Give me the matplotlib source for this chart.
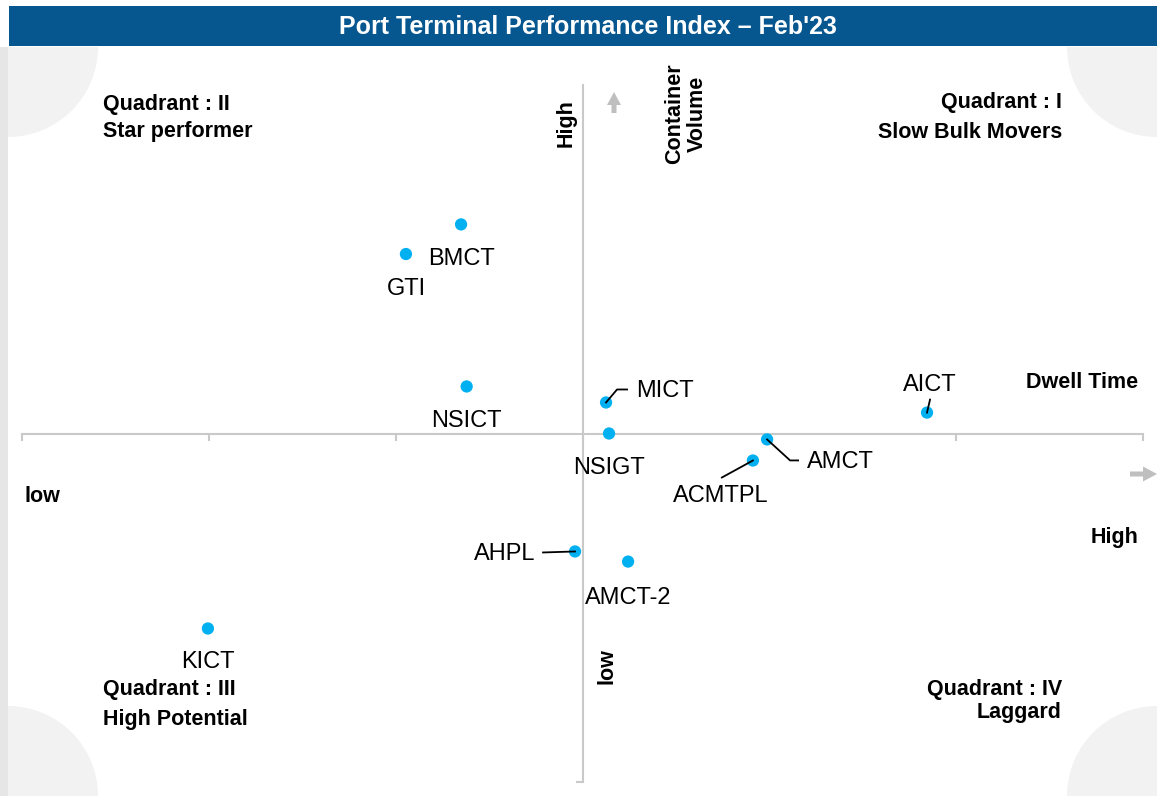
"""Port Terminal Performance Index quadrant chart (Feb'23)."""

import numpy as np
import matplotlib
matplotlib.use("Agg")
import matplotlib.pyplot as plt
from matplotlib.patches import Rectangle, Circle, FancyArrow
from matplotlib.transforms import IdentityTransform

plt.rcParams["font.family"] = ["Liberation Sans", "DejaVu Sans"]

# data (x = dwell time score, y = container volume score)
TERMINALS = ["BMCT", "GTI", "NSICT", "MICT", "NSIGT", "AMCT", "ACMTPL",
             "AICT", "AHPL", "AMCT-2", "KICT"]
DWELL_TIME = [-0.65, -0.945, -0.62, 0.126, 0.142, 0.988, 0.912, 1.844, -0.04, 0.244, -2.005]
CONTAINER_VOLUME = [1.20, 1.03, 0.27, 0.178, 0.0, -0.034, -0.155, 0.12, -0.677, -0.735, -1.119]
X_TICKS = [-3, -2, -1, 0, 1, 2, 3]

TITLE = "Port Terminal Performance Index \u2013 Feb'23"

# label placement in pixels relative to the dot (x right, y down)
LABEL_POS = {
    "BMCT": ((0, 35), "center"),
    "GTI": ((0, 35), "center"),
    "NSICT": ((0, 35), "center"),
    "MICT": ((30, -11), "left"),
    "NSIGT": ((0, 35), "center"),
    "AMCT": ((40, 23), "left"),
    "ACMTPL": ((-32, 35), "center"),
    "AICT": ((3, -28), "center"),
    "AHPL": ((-40, 3), "right"),
    "AMCT-2": ((0, 36), "center"),
    "KICT": ((0, 34), "center"),
}
LEADERS = {
    "MICT": [(0, 0), (11, -13), (21, -13)],
    "AMCT": [(0, 0), (23, 21), (31, 21)],
    "ACMTPL": [(0, 0), (-31, 17)],
    "AICT": [(0, 0), (3, -13)],
    "AHPL": [(0, 0), (-32, 1)],
}

W, H = 1157, 796
BLUE = "#06568F"
DOT = "#00B0F0"
AXIS_GREY = "#C9C9C9"
DECOR = "#F2F2F2"

fig = plt.figure(figsize=(W / 100, H / 100), dpi=100)
fig.patch.set_facecolor("white")

# background / decoration layer in pixel coordinates
bg = fig.add_axes([0, 0, 1, 1], zorder=0)
bg.set_xlim(0, W)
bg.set_ylim(H, 0)
bg.axis("off")

content = Rectangle((8, 47), W - 8, H - 47, transform=bg.transData, facecolor="none", edgecolor="none")
bg.add_patch(content)
for cx, cy in [(8, 47), (W, 47), (8, H), (W, H)]:
    c = Circle((cx, cy), 90, facecolor=DECOR, edgecolor="none")
    bg.add_patch(c)
    c.set_clip_path(content)
bg.add_patch(Rectangle((0, 47), 8, H - 47, facecolor="#E6E6E6", edgecolor="none"))
bg.add_patch(Rectangle((9, 6), W - 9, 40, facecolor=BLUE, edgecolor="none"))
bg.text(588, 27, TITLE, color="white", fontsize=18, fontweight="bold", ha="center", va="center")

bold = dict(fontsize=15.5, fontweight="bold", color="black")
bg.text(103, 110, "Quadrant : II", ha="left", va="baseline", **bold)
bg.text(103, 137, "Star performer", ha="left", va="baseline", **bold)
bg.text(1062, 108, "Quadrant : I", ha="right", va="baseline", **bold)
bg.text(1062, 138, "Slow Bulk Movers", ha="right", va="baseline", **bold)
bg.text(103, 695, "Quadrant : III", ha="left", va="baseline", **bold)
bg.text(103, 725, "High Potential", ha="left", va="baseline", **bold)
bg.text(1062, 695, "Quadrant : IV", ha="right", va="baseline", **bold)
bg.text(1062, 718, "Laggard", ha="right", va="baseline", **bold)

bg.text(1138, 388, "Dwell Time", ha="right", va="baseline", **bold)
bg.text(24, 502, "low", ha="left", va="baseline", **bold)
bg.text(1138, 543, "High", ha="right", va="baseline", **bold)
bg.text(566, 123, "High", rotation=90, ha="center", va="center", **bold)
bg.text(686, 114, "Container\nVolume", rotation=90, ha="center", va="center",
        multialignment="center", linespacing=1.12, **bold)
bg.text(607, 666, "low", rotation=90, ha="center", va="center", **bold)

bg.add_patch(FancyArrow(614, 113, 0, -21, width=5, head_width=14, head_length=13,
                        length_includes_head=True, color="#BFBFBF", linewidth=0))
bg.add_patch(FancyArrow(1130, 474, 27, 0, width=5, head_width=15, head_length=14,
                        length_includes_head=True, color="#BFBFBF", linewidth=0))

# data layer
ax = fig.add_axes([22 / W, (H - 782) / H, (1143 - 22) / W, (782 - 85) / H], zorder=1)
ax.patch.set_visible(False)
ax.set_xlim(-3, 3)
ax.set_ylim(-2, 2)
for side in ["top", "right"]:
    ax.spines[side].set_visible(False)
ax.spines["bottom"].set_position(("data", 0))
ax.spines["left"].set_position(("data", 0))
for side in ["bottom", "left"]:
    ax.spines[side].set_color(AXIS_GREY)
    ax.spines[side].set_linewidth(1.5)
ax.set_xticks(X_TICKS)
ax.set_yticks([-2])
ax.tick_params(axis="both", direction="out", length=5, width=1.5, color=AXIS_GREY,
               labelbottom=False, labelleft=False)

ax.scatter(DWELL_TIME, CONTAINER_VOLUME, s=78, color=DOT, edgecolor="none", zorder=3, clip_on=False)

for name, x, y in zip(TERMINALS, DWELL_TIME, CONTAINER_VOLUME):
    (dx, dy), ha = LABEL_POS[name]
    ax.annotate(name, xy=(x, y), xytext=(dx * 0.72, -dy * 0.72), textcoords="offset points",
                ha=ha, va="center", fontsize=17, color="black", zorder=4)
    if name in LEADERS:
        px, py = ax.transData.transform((x, y))
        pts = np.array([(px + ox, py - oy) for ox, oy in LEADERS[name]])
        ax.plot(pts[:, 0], pts[:, 1], color="black", linewidth=1.3,
                transform=IdentityTransform(), clip_on=False, zorder=3.5)

fig.savefig("out.png", dpi=100, facecolor="white")
